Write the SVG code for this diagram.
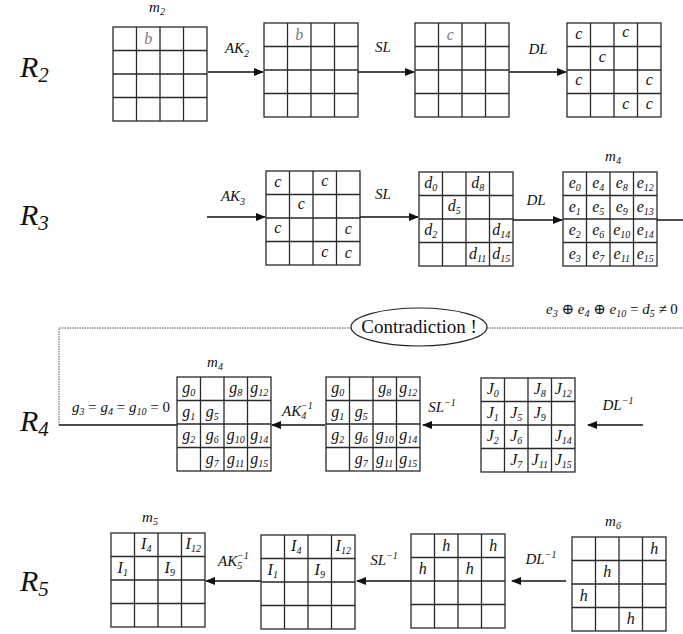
<svg xmlns="http://www.w3.org/2000/svg" xmlns:xlink="http://www.w3.org/1999/xlink" width="683" height="634" viewBox="0 0 683 634" font-family="Liberation Serif, Times New Roman, DejaVu Serif, serif">
<style>
.gr{fill:#fff;stroke:#2a2a2a;stroke-width:1.3}
.t{font-style:italic;font-size:16px;text-anchor:middle;fill:#111}
.gy{fill:#777}
.lb{font-style:italic;font-size:15px;text-anchor:middle;fill:#111}
.R{font-style:italic;font-size:30px;fill:#111}
.ct{font-size:19px;text-anchor:middle;fill:#111}
.ln{stroke:#111;stroke-width:1.5;fill:none}
.dt{stroke:#555;stroke-width:1;stroke-dasharray:1.5 1;fill:none}
.s{font-size:10px}
</style>
<defs>
<marker id="ah" markerWidth="10" markerHeight="8" refX="9" refY="4" orient="auto" markerUnits="userSpaceOnUse">
<path d="M0,0 L10,4 L0,8 z" fill="#111"/>
</marker>
<g id="grid"><rect class="gr" width="94" height="94"/><path class="gr" d="M23.5 0V94M47 0V94M70.5 0V94M0 23.5H94M0 47H94M0 70.5H94"/></g>
</defs>

<!-- Row labels -->
<text class="R" x="20" y="77">R<tspan font-size="21" dy="5">2</tspan></text>
<text class="R" x="20" y="225">R<tspan font-size="21" dy="5">3</tspan></text>
<text class="R" x="20" y="431">R<tspan font-size="21" dy="5">4</tspan></text>
<text class="R" x="20" y="591">R<tspan font-size="21" dy="5">5</tspan></text>

<!-- connectors -->
<g id="connectors">
<line class="ln" x1="208" y1="72" x2="263" y2="72" marker-end="url(#ah)"/>
<line class="ln" x1="357" y1="72" x2="414" y2="72" marker-end="url(#ah)"/>
<line class="ln" x1="509" y1="72" x2="566" y2="72" marker-end="url(#ah)"/>
<line class="ln" x1="207" y1="217" x2="265" y2="217" marker-end="url(#ah)"/>
<line class="ln" x1="360" y1="217" x2="418" y2="217" marker-end="url(#ah)"/>
<line class="ln" x1="513" y1="220" x2="562" y2="220" marker-end="url(#ah)"/>
<line class="ln" x1="657" y1="220" x2="683" y2="220"/>
<path class="dt" d="M59 425V328H351M487 328H683"/>
<line class="ln" x1="59" y1="425" x2="177" y2="425"/>
<line class="ln" x1="325" y1="425" x2="272" y2="425" marker-end="url(#ah)"/>
<line class="ln" x1="481" y1="425" x2="423" y2="425" marker-end="url(#ah)"/>
<line class="ln" x1="643" y1="425" x2="588" y2="425" marker-end="url(#ah)"/>
<line class="ln" x1="261" y1="581" x2="206" y2="581" marker-end="url(#ah)"/>
<line class="ln" x1="411" y1="581" x2="357" y2="581" marker-end="url(#ah)"/>
<line class="ln" x1="566" y1="581" x2="512" y2="581" marker-end="url(#ah)"/>
</g>

<!-- arrow labels -->
<g id="labels">
<text class="lb" x="157" y="12" font-size="13">m<tspan class="s" dy="3">2</tspan></text>
<text class="lb" x="237" y="53">AK<tspan class="s" dy="4">2</tspan></text>
<text class="lb" x="383" y="52">SL</text>
<text class="lb" x="538" y="54">DL</text>
<text class="lb" x="233" y="201">AK<tspan class="s" dy="4">3</tspan></text>
<text class="lb" x="383" y="199">SL</text>
<text class="lb" x="536" y="205">DL</text>
<text class="lb" x="613" y="161" font-size="14">m<tspan class="s" dy="3">4</tspan></text>
<text class="lb" x="215" y="367" font-size="14">m<tspan class="s" dy="3">4</tspan></text>
<text class="lb" x="121" y="412" font-size="16">g<tspan class="s" dy="3">3</tspan><tspan dy="-3" font-style="normal"> = </tspan>g<tspan class="s" dy="3">4</tspan><tspan dy="-3" font-style="normal"> = </tspan>g<tspan class="s" dy="3">10</tspan><tspan dy="-3" font-style="normal"> = 0</tspan></text>
<text class="lb" x="282" y="416" style="text-anchor:start">AK<tspan class="s" dy="3">4</tspan><tspan class="s" x="301" dy="-10">−1</tspan></text>
<text class="lb" x="442" y="412">SL<tspan class="s" dy="-6">−1</tspan></text>
<text class="lb" x="618" y="410">DL<tspan class="s" dy="-6">−1</tspan></text>
<text class="lb" x="150" y="522" font-size="13">m<tspan class="s" dy="3">5</tspan></text>
<text class="lb" x="218" y="566" style="text-anchor:start">AK<tspan class="s" dy="3">5</tspan><tspan class="s" x="237" dy="-10">−1</tspan></text>
<text class="lb" x="384" y="565">SL<tspan class="s" dy="-6">−1</tspan></text>
<text class="lb" x="541" y="564">DL<tspan class="s" dy="-6">−1</tspan></text>
<text class="lb" x="613" y="526" font-size="13">m<tspan class="s" dy="3">6</tspan></text>
<text class="lb" x="546" y="314" style="text-anchor:start" font-size="12">e<tspan class="s" dy="3">3</tspan><tspan dy="-3" font-style="normal"> ⊕ </tspan>e<tspan class="s" dy="3">4</tspan><tspan dy="-3" font-style="normal"> ⊕ </tspan>e<tspan class="s" dy="3">10</tspan><tspan dy="-3" font-style="normal"> = </tspan>d<tspan class="s" dy="3">5</tspan><tspan dy="-3" font-style="normal"> ≠ 0</tspan></text>
</g>

<g id="contradiction">
<ellipse cx="419" cy="327" rx="68" ry="19" fill="#fff" stroke="#222" stroke-width="1.2"/>
<text class="ct" x="419" y="333">Contradiction !</text>
</g>

<!-- R2 grids -->
<g id="r2g1" transform="translate(113,27)"><use xlink:href="#grid"/>
<text class="t gy" x="35.25" y="17">b</text></g>
<g id="r2g2" transform="translate(264,23)"><use xlink:href="#grid"/>
<text class="t gy" x="35.25" y="17">b</text></g>
<g id="r2g3" transform="translate(415,23)"><use xlink:href="#grid"/>
<text class="t gy" x="35.25" y="17">c</text></g>
<g id="r2g4" transform="translate(567,23)"><use xlink:href="#grid"/>
<text class="t" x="11.75" y="16">c</text><text class="t" x="58.75" y="14">c</text>
<text class="t" x="35.25" y="39">c</text>
<text class="t" x="11.75" y="62">c</text><text class="t" x="82.25" y="62">c</text>
<text class="t" x="58.75" y="86">c</text><text class="t" x="82.25" y="86">c</text></g>

<!-- R3 grids -->
<g id="r3g1" transform="translate(266,171)"><use xlink:href="#grid"/>
<text class="t" x="11.75" y="16">c</text><text class="t" x="58.75" y="15">c</text>
<text class="t" x="35.25" y="38">c</text>
<text class="t" x="11.75" y="62">c</text><text class="t" x="82.25" y="63">c</text>
<text class="t" x="58.75" y="86">c</text><text class="t" x="82.25" y="87">c</text></g>
<g id="r3g2" transform="translate(419,172)"><use xlink:href="#grid"/>
<text class="t" x="11.75" y="16">d<tspan class="s" dy="3">0</tspan></text>
<text class="t" x="58.75" y="16">d<tspan class="s" dy="3">8</tspan></text>
<text class="t" x="35.25" y="39">d<tspan class="s" dy="3">5</tspan></text>
<text class="t" x="11.75" y="63">d<tspan class="s" dy="3">2</tspan></text>
<text class="t" x="82.25" y="63">d<tspan class="s" dy="3">14</tspan></text>
<text class="t" x="58.75" y="87">d<tspan class="s" dy="3">11</tspan></text>
<text class="t" x="82.25" y="87">d<tspan class="s" dy="3">15</tspan></text></g>
<g id="r3g3" transform="translate(563,172)"><use xlink:href="#grid"/>
<text class="t" x="11.75" y="16">e<tspan class="s" dy="3">0</tspan></text>
<text class="t" x="35.25" y="16">e<tspan class="s" dy="3">4</tspan></text>
<text class="t" x="58.75" y="16">e<tspan class="s" dy="3">8</tspan></text>
<text class="t" x="82.25" y="16">e<tspan class="s" dy="3">12</tspan></text>
<text class="t" x="11.75" y="40">e<tspan class="s" dy="3">1</tspan></text>
<text class="t" x="35.25" y="40">e<tspan class="s" dy="3">5</tspan></text>
<text class="t" x="58.75" y="40">e<tspan class="s" dy="3">9</tspan></text>
<text class="t" x="82.25" y="40">e<tspan class="s" dy="3">13</tspan></text>
<text class="t" x="11.75" y="63">e<tspan class="s" dy="3">2</tspan></text>
<text class="t" x="35.25" y="63">e<tspan class="s" dy="3">6</tspan></text>
<text class="t" x="58.75" y="63">e<tspan class="s" dy="3">10</tspan></text>
<text class="t" x="82.25" y="63">e<tspan class="s" dy="3">14</tspan></text>
<text class="t" x="11.75" y="87">e<tspan class="s" dy="3">3</tspan></text>
<text class="t" x="35.25" y="87">e<tspan class="s" dy="3">7</tspan></text>
<text class="t" x="58.75" y="87">e<tspan class="s" dy="3">11</tspan></text>
<text class="t" x="82.25" y="87">e<tspan class="s" dy="3">15</tspan></text></g>

<!-- R4 grids -->
<g id="r4g1" transform="translate(177,377)"><use xlink:href="#grid"/>
<text class="t" x="11.75" y="16">g<tspan class="s" dy="3">0</tspan></text>
<text class="t" x="58.75" y="16">g<tspan class="s" dy="3">8</tspan></text>
<text class="t" x="82.25" y="16">g<tspan class="s" dy="3">12</tspan></text>
<text class="t" x="11.75" y="40">g<tspan class="s" dy="3">1</tspan></text>
<text class="t" x="35.25" y="40">g<tspan class="s" dy="3">5</tspan></text>
<text class="t" x="11.75" y="63">g<tspan class="s" dy="3">2</tspan></text>
<text class="t" x="35.25" y="63">g<tspan class="s" dy="3">6</tspan></text>
<text class="t" x="58.75" y="63">g<tspan class="s" dy="3">10</tspan></text>
<text class="t" x="82.25" y="63">g<tspan class="s" dy="3">14</tspan></text>
<text class="t" x="35.25" y="87">g<tspan class="s" dy="3">7</tspan></text>
<text class="t" x="58.75" y="87">g<tspan class="s" dy="3">11</tspan></text>
<text class="t" x="82.25" y="87">g<tspan class="s" dy="3">15</tspan></text></g>
<g id="r4g2" transform="translate(326,377)"><use xlink:href="#grid"/>
<text class="t" x="11.75" y="16">g<tspan class="s" dy="3">0</tspan></text>
<text class="t" x="58.75" y="16">g<tspan class="s" dy="3">8</tspan></text>
<text class="t" x="82.25" y="16">g<tspan class="s" dy="3">12</tspan></text>
<text class="t" x="11.75" y="40">g<tspan class="s" dy="3">1</tspan></text>
<text class="t" x="35.25" y="40">g<tspan class="s" dy="3">5</tspan></text>
<text class="t" x="11.75" y="63">g<tspan class="s" dy="3">2</tspan></text>
<text class="t" x="35.25" y="63">g<tspan class="s" dy="3">6</tspan></text>
<text class="t" x="58.75" y="63">g<tspan class="s" dy="3">10</tspan></text>
<text class="t" x="82.25" y="63">g<tspan class="s" dy="3">14</tspan></text>
<text class="t" x="35.25" y="87">g<tspan class="s" dy="3">7</tspan></text>
<text class="t" x="58.75" y="87">g<tspan class="s" dy="3">11</tspan></text>
<text class="t" x="82.25" y="87">g<tspan class="s" dy="3">15</tspan></text></g>
<g id="r4g3" transform="translate(481,378)"><use xlink:href="#grid"/>
<text class="t" x="11.75" y="16">J<tspan class="s" dy="3">0</tspan></text>
<text class="t" x="58.75" y="16">J<tspan class="s" dy="3">8</tspan></text>
<text class="t" x="82.25" y="16">J<tspan class="s" dy="3">12</tspan></text>
<text class="t" x="11.75" y="40">J<tspan class="s" dy="3">1</tspan></text>
<text class="t" x="35.25" y="40">J<tspan class="s" dy="3">5</tspan></text>
<text class="t" x="58.75" y="40">J<tspan class="s" dy="3">9</tspan></text>
<text class="t" x="11.75" y="63">J<tspan class="s" dy="3">2</tspan></text>
<text class="t" x="35.25" y="63">J<tspan class="s" dy="3">6</tspan></text>
<text class="t" x="82.25" y="63">J<tspan class="s" dy="3">14</tspan></text>
<text class="t" x="35.25" y="87">J<tspan class="s" dy="3">7</tspan></text>
<text class="t" x="58.75" y="87">J<tspan class="s" dy="3">11</tspan></text>
<text class="t" x="82.25" y="87">J<tspan class="s" dy="3">15</tspan></text></g>

<!-- R5 grids -->
<g id="r5g1" transform="translate(111,533)"><use xlink:href="#grid"/>
<text class="t" x="35.25" y="16">I<tspan class="s" dy="3">4</tspan></text>
<text class="t" x="82.25" y="16">I<tspan class="s" dy="3">12</tspan></text>
<text class="t" x="11.75" y="40">I<tspan class="s" dy="3">1</tspan></text>
<text class="t" x="58.75" y="40">I<tspan class="s" dy="3">9</tspan></text></g>
<g id="r5g2" transform="translate(261,535)"><use xlink:href="#grid"/>
<text class="t" x="35.25" y="16">I<tspan class="s" dy="3">4</tspan></text>
<text class="t" x="82.25" y="16">I<tspan class="s" dy="3">12</tspan></text>
<text class="t" x="11.75" y="40">I<tspan class="s" dy="3">1</tspan></text>
<text class="t" x="58.75" y="40">I<tspan class="s" dy="3">9</tspan></text></g>
<g id="r5g3" transform="translate(411,534)"><use xlink:href="#grid"/>
<text class="t" x="35.25" y="17">h</text><text class="t" x="82.25" y="17">h</text>
<text class="t" x="11.75" y="40">h</text><text class="t" x="58.75" y="40">h</text></g>
<g id="r5g4" transform="translate(572,537)"><use xlink:href="#grid"/>
<text class="t" x="82.25" y="17">h</text>
<text class="t" x="35.25" y="40">h</text>
<text class="t" x="11.75" y="64">h</text>
<text class="t" x="58.75" y="87">h</text></g>
</svg>
